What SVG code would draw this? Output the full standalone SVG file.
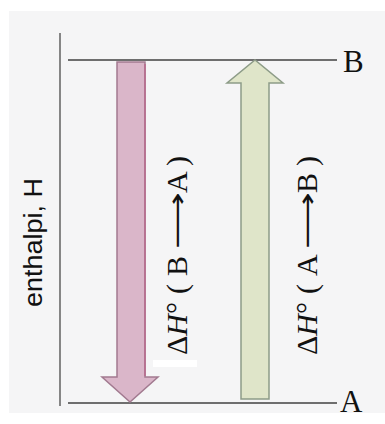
<svg xmlns="http://www.w3.org/2000/svg" width="385" height="424" viewBox="0 0 385 424">
<style>
.lvl{stroke:#6e6e6e;stroke-width:2;fill:none}
.axis{stroke:#6a6a6a;stroke-width:1.6;fill:none}
.serif{font-family:"Liberation Serif","Times New Roman",serif;fill:#111}
.sans{font-family:"Liberation Sans",Arial,sans-serif;fill:#111}
.red{fill:#dab6c9;stroke:#a27a90;stroke-width:1.5;stroke-linejoin:miter}
.green{fill:#dfe5c9;stroke:#8d9c88;stroke-width:1.5;stroke-linejoin:miter}
.arr{font-family:"DejaVu Sans",sans-serif;fill:#111}
</style>
<rect x="0" y="0" width="385" height="424" fill="#ffffff"/>
<rect x="9" y="11" width="376" height="402" fill="#f5f5f6"/>
<g id="connectors">
<line class="axis" x1="60" y1="33" x2="60" y2="406"/>
</g>
<g id="levelB">
<line class="lvl" x1="68" y1="60" x2="337" y2="60"/>
<text class="serif" x="343" y="72" font-size="31">B</text>
</g>
<g id="levelA">
<line class="lvl" x1="68" y1="403" x2="337" y2="403"/>
<text class="serif" x="340" y="412" font-size="31">A</text>
</g>
<g id="axisLabel">
<text class="sans" transform="rotate(-90)" x="-307" y="42" font-size="26" textLength="129" lengthAdjust="spacingAndGlyphs">enthalpi, H</text>
</g>
<g id="arrowBA">
<path class="red" d="M117,62 L145,62 L145,377 L158,377 L130,402 L102,377 L117,377 Z"/>
<line x1="145" y1="64" x2="145" y2="376" stroke="#b86a8c" stroke-width="1.5"/>
</g>
<g id="arrowAB">
<path class="green" d="M241,399 L269,399 L269,83 L283,83 L255,60 L227,83 L241,83 Z"/>
</g>
<rect x="153" y="360" width="44" height="7" fill="#ffffff"/>
<g id="labelBA">
<text class="serif" transform="rotate(-90)" y="187" font-size="30"><tspan x="-355">Δ</tspan><tspan font-style="italic">H</tspan><tspan>°</tspan><tspan x="-294">(</tspan><tspan x="-276">B</tspan><tspan x="-193">A</tspan><tspan x="-166">)</tspan></text>
<text class="arr" transform="rotate(-90)" x="-249" y="186" font-size="26" textLength="57" lengthAdjust="spacingAndGlyphs">⟶</text>
</g>
<g id="labelAB">
<text class="serif" transform="rotate(-90)" y="317" font-size="30"><tspan x="-355">Δ</tspan><tspan font-style="italic">H</tspan><tspan>°</tspan><tspan x="-294">(</tspan><tspan x="-276">A</tspan><tspan x="-193">B</tspan><tspan x="-166">)</tspan></text>
<text class="arr" transform="rotate(-90)" x="-249" y="316" font-size="26" textLength="57" lengthAdjust="spacingAndGlyphs">⟶</text>
</g>
</svg>
